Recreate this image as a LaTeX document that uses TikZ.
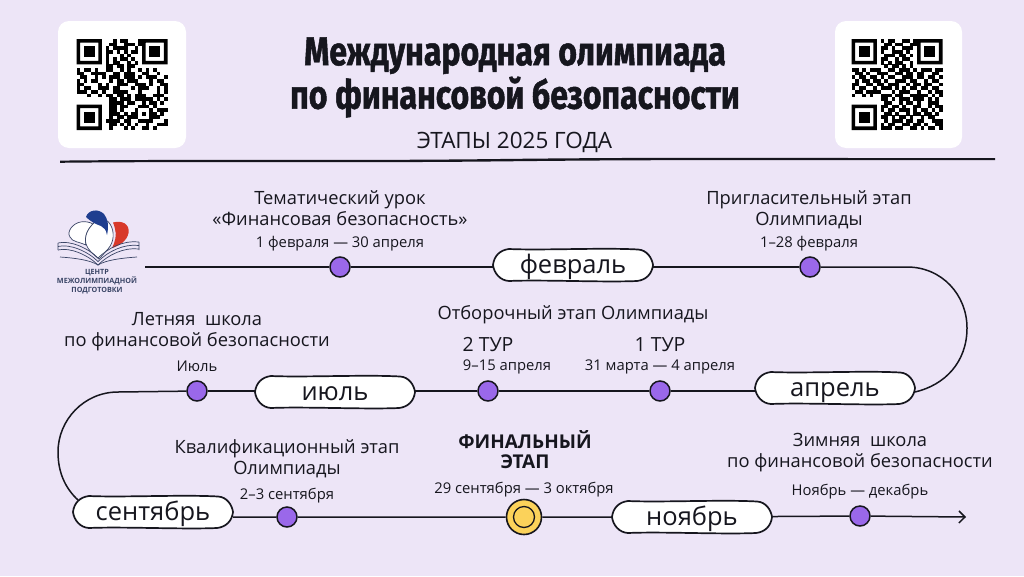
\documentclass[tikz,border=0pt]{standalone}
\usepackage{fontspec}
\usetikzlibrary{shapes.misc,arrows.meta}
\setmainfont{Open Sans}
\newfontfamily\titlefont[FakeStretch=0.8,FakeBold=1.2]{Fira Sans Bold}
\definecolor{bg}{HTML}{EDE5F7}
\definecolor{ink}{HTML}{16161E}
\definecolor{dotv}{HTML}{9A68EA}
\definecolor{gold}{HTML}{FBD25A}
\definecolor{logob}{HTML}{1F3E8F}
\definecolor{logor}{HTML}{D8382A}
\definecolor{logon}{HTML}{3A4566}
\tikzset{
 x=1pt,y=-1pt,
 line/.style={draw=ink,line width=1.5pt},
 pill/.style={shape=rounded rectangle,minimum width=160pt,minimum height=32pt,font=\fontsize{25.5}{25.5}\selectfont,text=ink,inner sep=0pt,text height=17.7pt,text depth=0pt},
 pillbody/.style={draw=ink,fill=white,line width=1.7pt},
 dotn/.style={circle,draw=ink,fill=dotv,line width=1.5pt,minimum size=20pt,inner sep=0pt},
 head/.style={align=center,text=ink,font=\fontsize{18.3}{21}\selectfont},
 tur/.style={align=center,text=ink,font=\fontsize{19.5}{21}\selectfont},
 sub/.style={text=ink,font=\fontsize{14.8}{16}\selectfont},
 qrcard/.style={fill=white,rounded corners=11pt},
}
\def\qrfinder#1,#2\relax{%
 \fill[black,even odd rule] (#1,#2) rectangle ++(7,7) (#1+1,#2+1) rectangle ++(5,5);
 \fill[black] (#1+2,#2+2) rectangle ++(3,3);}
\def\rowloop#1{\ifx#1\relax\else
  \if#11\fill[black] (\the\qrc,\rr) rectangle ++(1.02,1.02);\fi
  \global\advance\qrc by 1 \expandafter\rowloop\fi}
\newcount\qrc
\def\qrrow#1#2{\global\qrc=0 \def\rr{#1}\expandafter\rowloop#2\relax}
\newcommand{\pillshape}[2]{%
 \path[pillbody,shift={(#1,#2)}] (-80,0) .. controls (-79,-9) and (-73,-15) .. (-64,-16) .. controls (-30,-14.5) and (30,-17.5) .. (65,-15.5) .. controls (74,-15) and (79,-7) .. (80,0) .. controls (79,9) and (73,15) .. (64,16) .. controls (30,17.5) and (-30,14.5) .. (-64,16) .. controls (-73,15.5) and (-79,8) .. (-80,0) -- cycle;}
\begin{document}
\begin{tikzpicture}
\useasboundingbox (0,0) rectangle (1024,576);
\fill[bg] (0,0) rectangle (1024,576);
% QR cards
\fill[qrcard] (58,21) rectangle (186,148);
\fill[qrcard] (835,21) rectangle (962,148);
\begin{scope}[shift={(76.5,39)},x=3.64pt,y=-3.64pt]
\qrfinder0,0\relax\qrfinder18,0\relax\qrfinder0,18\relax
\foreach \r/\s in {
0/0000000000101100011000000,
1/0000000001100111010000000,
2/0000000010111100100000000,
3/0000000011010101100000000,
4/0000000010001010000000000,
5/0000000010101101000000000,
6/0000000010110010100000000,
7/0000000011011011000000000,
8/1011010011001010010101000,
9/1100111100110111001100100,
10/0110010101110111010111001,
11/1010110001011011100010110,
12/1100001010011100111010011,
13/1011001110110001011100101,
14/1110110100111100010000101,
15/0001001011011010111001110,
16/0000000001101110111110101,
17/0000000001111011001011010,
18/0000000001101100011101000,
19/0000000001101000100010111,
20/0000000001110101101011010,
21/0000000001011011100011100,
22/0000000011110110011110001,
23/0000000001101010100100111,
24/0000000001000101001101000}{
 \qrrow{\r}{\s}}
\end{scope}
\begin{scope}[shift={(851.5,39)},x=3.64pt,y=-3.64pt]
\qrfinder0,0\relax\qrfinder18,0\relax\qrfinder0,18\relax
\foreach \r/\s in {
0/0000000010110011010000000,
1/0000000001101100110000000,
2/0000000011010011100000000,
3/0000000010011101000000000,
4/0000000001110110100000000,
5/0000000011001011000000000,
6/0000000010101100100000000,
7/0000000001011010100000000,
8/1101011100110111010111011,
9/0110100111001101101100110,
10/1011011010110011101101101,
11/0101101101001110110010110,
12/1100110110111001011011001,
13/1011001011101010110110110,
14/0110111100010111001001011,
15/1001010011101100111110101,
16/0000000011010111011101010,
17/0000000001100101101001110,
18/0000000011011010011001011,
19/0000000010110111010110101,
20/0000000001101001011011010,
21/0000000011010110100101100,
22/0000000001011101101100111,
23/0000000010110011011010011,
24/0000000011101100110101101}{
 \qrrow{\r}{\s}}
\end{scope}
% title
\node[text=ink,align=center,font=\titlefont\fontsize{40}{43.5}\selectfont] (title) at (515,77.5) {Международная олимпиада\\по финансовой безопасности};
\node[text=ink,font=\fontsize{22.5}{24}\selectfont] (stage) at (514.5,142) {ЭТАПЫ 2025 ГОДА};
\fill[ink] (60,160.6) .. controls (200,159) and (330,161) .. (500,159) .. controls (700,156.6) and (850,158.6) .. (995,158) -- (995,160) .. controls (850,160.8) and (700,159) .. (500,161.4) .. controls (330,163.2) and (200,161.2) .. (60,162.8) -- cycle;
% logo
\fill[white,draw=logon,line width=.7pt] (71,228) .. controls (76,221) and (86,220) .. (93,224) .. controls (87,230) and (84,237) .. (86,245) .. controls (80,242) and (72,242) .. (70,237) .. controls (68,234) and (69,231) .. (71,228) -- cycle;
\fill[white,draw=logon,line width=.7pt] (95,222) .. controls (100,218) and (106,218) .. (110,224) .. controls (115,232) and (114,242) .. (108,249) .. controls (105,252) and (102,256) .. (99,259) .. controls (93,254) and (88,250) .. (86,244) .. controls (84,236) and (88,228) .. (95,222) -- cycle;
\fill[logob] (86,217) .. controls (88,210) and (98,208) .. (104,214) .. controls (108,219) and (109,226) .. (107,235) .. controls (106,229) and (104,228) .. (101,226) .. controls (95,224) and (90,221) .. (86,217) -- cycle;
\fill[logor] (113,222.5) .. controls (122,220) and (130,224) .. (128.5,233) .. controls (127,241) and (119,246) .. (112,248) .. controls (115,242) and (117,235) .. (115,229) .. controls (114.5,227) and (114,224) .. (113,222.5) -- cycle;
\foreach \d in {0,3.5,7}{
\draw[logon,line width=.7pt] (58,243+\d) .. controls (70,240+\d) and (88,248+\d) .. (98,258+\d) .. controls (108,248+\d) and (124,240+\d) .. (139,242+\d);}
\draw[logon,line width=.7pt] (58,243) -- (58,250) (139,242) -- (139,250) (60,257) .. controls (75,258) and (90,260) .. (98,265) .. controls (106,260) and (122,258) .. (137,257);
\node[text=logon,align=center,font=\fontsize{7.2}{9}\selectfont\bfseries] (logotext) at (97,282) {ЦЕНТР\\МЕЖОЛИМПИАДНОЙ\\ПОДГОТОВКИ};
% pills
\pillshape{573}{265}
\pillshape{835}{388}
\pillshape{335}{392}
\pillshape{153}{512}
\pillshape{692}{517}
\node[pill] (feb) at (573,265) {февраль};
\node[pill] (apr) at (835,388) {апрель};
\node[pill] (jul) at (335,392) {июль};
\node[pill] (sep) at (153,512) {сентябрь};
\node[pill] (nov) at (692,517) {ноябрь};
\node[dotn] (d1) at (340,267) {};
\node[dotn] (d2) at (810,267) {};
\node[dotn] (d3) at (660,391) {};
\node[dotn] (d4) at (488,391) {};
\node[dotn] (d5) at (197,391) {};
\node[dotn] (d6) at (287,517) {};
\node[dotn] (d7) at (860,516) {};
\node[circle,draw=ink,fill=gold,line width=1.6pt,minimum size=35pt,inner sep=0pt] (fin) at (524,517) {};
\draw[ink,line width=1.3pt] (fin.center) circle (10.5pt);
\coordinate (s) at (145,267);
\coordinate (e) at (966,517);
\coordinate (r1) at (907,267);
\coordinate (r2) at (967,328);
\coordinate (r3) at (915,392);
\coordinate (l1) at (118,392);
\coordinate (l2) at (58,452);
\coordinate (l3) at (78,500);
% connectors
\draw[line] (s) -- (d1) -- (d1 -| feb.west) (d2 -| feb.east) -- (d2);
\draw[line] (d2) -- (r1) .. controls (942,267) and (967,295) .. (r2) .. controls (967,362) and (945,385) .. (r3);
\draw[line] (d3 -| apr.west) -- (d3) -- (d4) -- (d4 -| jul.east) (d5 -| jul.west) -- (d5);
\draw[line] (d5) -- (l1) .. controls (84,392) and (58,420) .. (l2) .. controls (58,472) and (65,488) .. (l3);
\draw[line] (d6 -| sep.east) -- (d6) -- (fin) -- (nov) -- (d7);
\draw[line,-{Straight Barb[length=6pt,width=12pt]}] (d7) -- (e);
% labels
\node[head] (a1) at (340,208) {Тематический урок\\«Финансовая безопасность»};
\node[sub] (b1) at (340,244) {1 февраля — 30 апреля};
\node[head] (a2) at (809,210) {Пригласительный этап\\Олимпиады};
\node[sub] (b2) at (809,244) {1–28 февраля};
\node[head] (a3) at (573,315) {Отборочный этап Олимпиады};
\node[tur] (a4) at (488,345) {2 ТУР};
\node[sub] (b4) at (507,367) {9–15 апреля};
\node[tur] (a5) at (660,345) {1 ТУР};
\node[sub] (b5) at (660,367) {31 марта — 4 апреля};
\node[head] (a6) at (197,332) {Летняя\ \ школа\\по финансовой безопасности};
\node[sub] (b6) at (197,366) {Июль};
\node[head] (a7) at (287,459) {Квалификационный этап\\Олимпиады};
\node[sub] (b7) at (287,496) {2–3 сентября};
\node[align=center,text=ink,font=\fontsize{19}{20}\selectfont\bfseries] (a8) at (525,450) {ФИНАЛЬНЫЙ\\ЭТАП};
\node[sub] (b8) at (524,490) {29 сентября — 3 октября};
\node[head] (a9) at (860,453) {Зимняя\ \ школа\\по финансовой безопасности};
\node[sub] (b9) at (860,492) {Ноябрь — декабрь};
\end{tikzpicture}
\end{document}
